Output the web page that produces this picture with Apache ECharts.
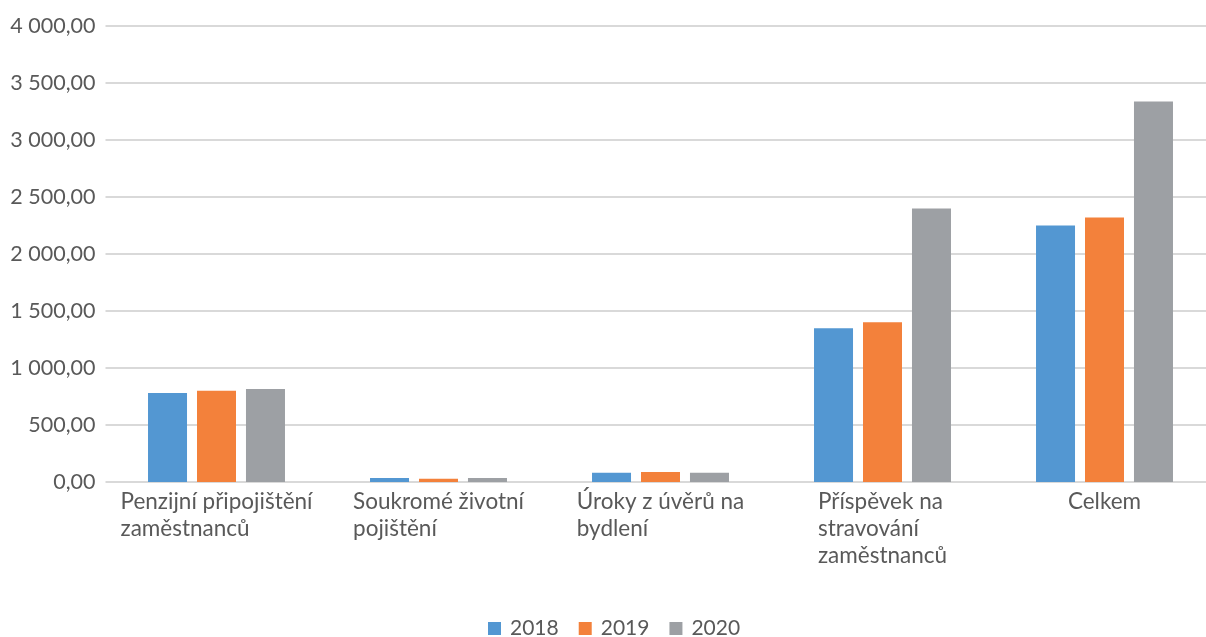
<!DOCTYPE html>
<html>
<head>
<meta charset="utf-8">
<script src="https://cdn.jsdelivr.net/npm/echarts@6/dist/echarts.min.js"></script>
<style>
html,body{margin:0;padding:0;background:#fff;overflow:hidden;}
#c{width:1216px;height:637px;}
</style>
</head>
<body>
<div id="c"></div>
<script>
const categories = [
  'Penzijní připojištění\nzaměstnanců',
  'Soukromé životní\npojištění',
  'Úroky z úvěrů na\nbydlení',
  'Příspěvek na\nstravování\nzaměstnanců',
  'Celkem'
];
const years = ['2018', '2019', '2020'];
const values2018 = [780, 36, 80, 1348, 2249];
const values2019 = [800, 28, 88, 1400, 2319];
const values2020 = [815, 36, 80, 2398, 3335];
const yTicks = { min: 0, max: 4000, interval: 500 };

const colors = ['#5397D2', '#F3813B', '#9DA0A4'];
const FONT = 'Lato';
const TXT = '#595959';

function fmt(v) {
  const s = v.toFixed(2).replace('.', ',');
  const [i, d] = s.split(',');
  return i.replace(/\B(?=(\d{3})+(?!\d))/g, ' ') + ',' + d;
}

const chart = echarts.init(document.getElementById('c'), null, { renderer: 'canvas' });
const seriesData = [values2018, values2019, values2020];
chart.setOption({
  animation: false,
  backgroundColor: '#fff',
  color: colors,
  grid: { left: 105.5, right: 0.5, top: 25.7, bottom: 155 },
  legend: {
    data: years,
    top: 613,
    left: 483,
    icon: 'rect',
    itemWidth: 13,
    itemHeight: 13,
    itemGap: 20,
    textStyle: { color: TXT, fontFamily: FONT, fontSize: 21, padding: [0, 0, 0, 4] }
  },
  xAxis: {
    type: 'category',
    data: categories,
    axisLine: { show: false },
    axisTick: { show: false },
    axisLabel: {
      interval: 0,
      margin: 6,
      formatter: function (v) {
        return v.split('\n').map(l => '{a|' + l + '}').join('\n');
      },
      rich: {
        a: { color: TXT, fontFamily: FONT, fontSize: 22.5, lineHeight: 27, align: 'left' }
      }
    }
  },
  yAxis: {
    type: 'value',
    min: yTicks.min,
    max: yTicks.max,
    interval: yTicks.interval,
    axisLine: { show: false },
    axisTick: { show: false },
    splitLine: { lineStyle: { color: '#D9D9D9', width: 2 } },
    axisLabel: { color: TXT, fontFamily: FONT, fontSize: 21.5, margin: 10, formatter: fmt }
  },
  series: years.map((y, i) => ({
    name: y,
    type: 'bar',
    data: seriesData[i],
    barWidth: 39,
    barGap: '25.6%'
  }))
});
</script>
</body>
</html>
